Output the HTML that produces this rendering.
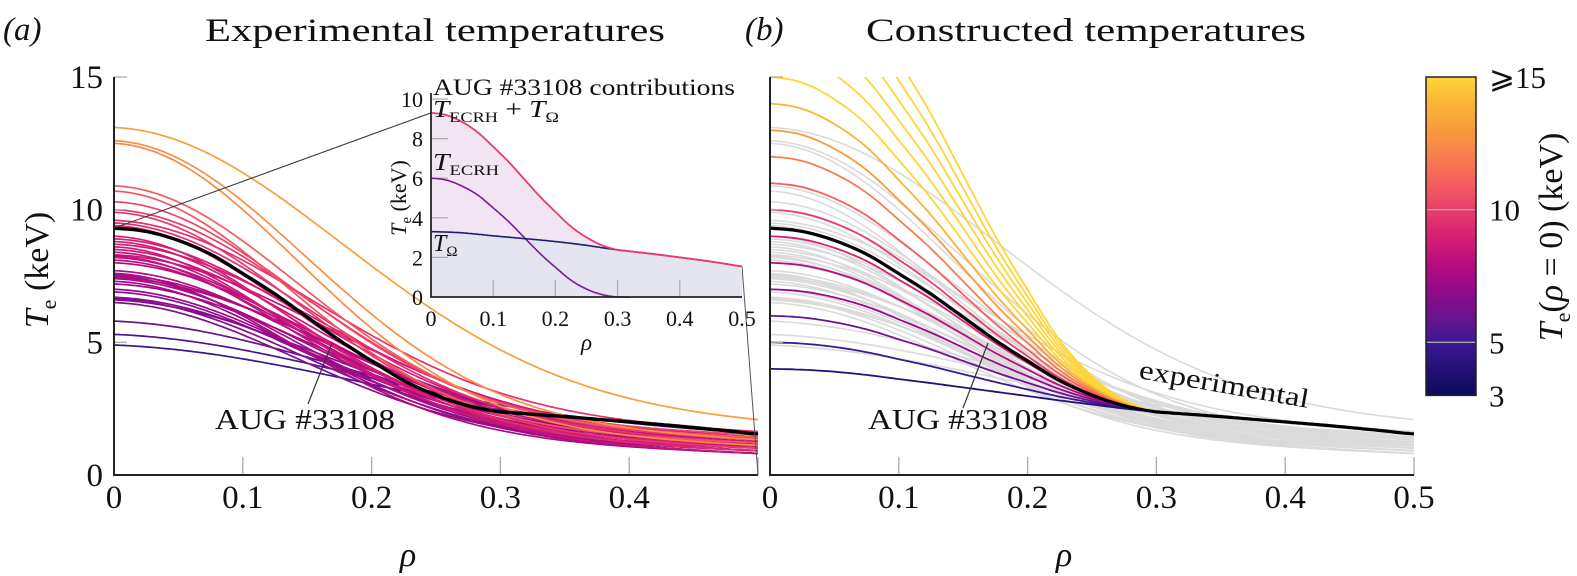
<!DOCTYPE html>
<html><head><meta charset="utf-8"><style>
body{margin:0;background:#fff}
svg{display:block;font-family:"Liberation Serif","DejaVu Serif",serif}
</style></head><body>
<svg id="fig" width="1577" height="576" viewBox="0 0 1577 576"></svg>
<script>
// ---------- data ----------
const rhoGrid = [0,0.025,0.05,0.075,0.1,0.125,0.15,0.175,0.2,0.225,0.25,0.275,0.3,0.325,0.35,0.375,0.4,0.425,0.45,0.475,0.5];
const tOmega = [3.3,3.28,3.24,3.17,3.09,3.02,2.95,2.88,2.8,2.71,2.61,2.49,2.38,2.29,2.2,2.1,2.0,1.9,1.79,1.67,1.55];
const tEcrh  = [6.0,5.9,5.6,5.15,4.5,3.8,3.0,2.2,1.5,0.85,0.4,0.12,0.0,0,0,0,0,0,0,0,0];
// experimental profiles (panel a): core temperature, width, edge value
const expT0 = [13.1,12.6,12.5,10.9,10.7,10.3,10.0,9.9,9.6,9.5,9.4,9.0,8.9,8.8,8.7,8.6,8.5,8.4,8.3,8.25,8.2,8.1,8.0,7.7,7.6,7.55,7.5,7.45,7.4,7.3,7.2,7.0,6.9,6.7,6.65,6.6,6.5,5.8,5.3,4.9];
const expW  = [0.25,0.21,0.20,0.20,0.19,0.20,0.21,0.20,0.22,0.21,0.20,0.19,0.21,0.20,0.22,0.19,0.21,0.20,0.23,0.19,0.21,0.20,0.22,0.21,0.19,0.22,0.20,0.23,0.21,0.20,0.22,0.21,0.20,0.22,0.21,0.23,0.20,0.25,0.26,0.28];
const expEdge = [1.9,1.3,1.1,1.4,1.2,1.5,1.3,1.0,1.6,1.2,0.9,1.1,1.3,0.9,1.4,1.0,1.2,0.8,1.3,1.1,0.9,1.2,1.0,1.1,0.8,1.3,0.9,1.2,1.0,0.8,1.1,0.9,1.2,1.0,0.8,1.1,0.9,1.3,1.5,1.2];
// constructed profiles (panel b): core temperature values
const conT0 = [4,5,6,7,8,9,10,11,12,13,14,15,16,17,18,19,20];
const yTicks = [0,5,10,15];
const xTicksA = [0,0.1,0.2,0.3,0.4];
const xTicksB = [0,0.1,0.2,0.3,0.4,0.5];
const insetXTicks = [0,0.1,0.2,0.3,0.4,0.5];
const insetYTicks = [0,2,4,6,8,10];
const cbTicks = [3,5,10,15];
const cbTickLabels = ["3","5","10","⩾15"];

// ---------- helpers ----------
const NS="http://www.w3.org/2000/svg";
const svg=document.getElementById('fig');
function mk(tag,attrs,parent){const e=document.createElementNS(NS,tag);for(const k in attrs)e.setAttribute(k,attrs[k]);(parent||svg).appendChild(e);return e;}
const cmapStops=[[3,[12,10,90]],[5,[60,24,148]],[6,[106,19,143]],[7,[150,11,137]],[8,[187,12,127]],[9,[216,31,115]],[10,[234,60,107]],[11,[244,96,94]],[12,[247,125,78]],[13,[248,155,60]],[14,[250,181,53]],[15,[252,213,56]]];
function cmap(v){v=Math.max(3,Math.min(15,v));for(let i=0;i<cmapStops.length-1;i++){const a=cmapStops[i],b=cmapStops[i+1];if(v<=b[0]){const t=(v-a[0])/(b[0]-a[0]);const c=a[1].map((x,j)=>Math.round(x+(b[1][j]-x)*t));return `rgb(${c})`;}}return 'rgb(252,213,56)';}
function expProfile(T0,w,e,r){const t=1.0;return e+t*(1-2*r)+(T0-e-t)*Math.exp(-(r/w)*(r/w));}
function interp(arr,r){const h=rhoGrid[1]-rhoGrid[0];let i=Math.min(Math.floor(r/h),arr.length-2);const t=r/h-i;
  const p0=arr[Math.max(i-1,0)],p1=arr[i],p2=arr[i+1],p3=arr[Math.min(i+2,arr.length-1)];
  return 0.5*((2*p1)+(-p0+p2)*t+(2*p0-5*p1+4*p2-p3)*t*t+(-p0+3*p1-3*p2+p3)*t*t*t);}
function ecrh(r){return r>=0.3?0:Math.max(0,interp(tEcrh,r));}

const A={x0:114,x1:758,y0:475,y1:77};
const B={x0:770,x1:1414,y0:475,y1:77};
function sx(P,r){return P.x0+(P.x1-P.x0)*r/0.5;}
function sy(P,v){return P.y0+(P.y1-P.y0)*v/15;}
const I={x0:431,x1:742,y0:297,y1:99};
function ix(r){return I.x0+(I.x1-I.x0)*r/0.5;}
function iy(v){return I.y0+(I.y1-I.y0)*v/10;}
function pathFrom(pts){return pts.map((p,i)=>(i?'L':'M')+p[0].toFixed(1)+' '+p[1].toFixed(1)).join(' ');}
function sample(fn,xf,yf,r0,r1){const pts=[];for(let k=0;k<=200;k++){const r=r0+(r1-r0)*k/200;pts.push([xf(r),yf(fn(r))]);}return pts;}

const defs=mk('defs',{});
const cA=mk('clipPath',{id:'clipA'},defs);mk('rect',{x:A.x0,y:A.y1,width:A.x1-A.x0,height:A.y0-A.y1},cA);
const cB=mk('clipPath',{id:'clipB'},defs);mk('rect',{x:B.x0,y:B.y1,width:B.x1-B.x0,height:B.y0-B.y1},cB);
const grad=mk('linearGradient',{id:'cbGrad',x1:0,y1:1,x2:0,y2:0},defs);
for(let v=3;v<=15;v+=0.5){mk('stop',{offset:((v-3)/12).toFixed(3),'stop-color':cmap(v)},grad);}

function drawAxes(P,name,xTicks){
  const g=mk('g',{});
  
  
  yTicks.forEach(v=>{ if(v>0){const t=mk('line',{x1:P.x0,x2:P.x0+13,y1:sy(P,v),y2:sy(P,v),stroke:'#aaa','stroke-width':1.3},g);}});
  [0.1,0.2,0.3,0.4,0.5].forEach(r=>{const t=mk('line',{x1:sx(P,r),x2:sx(P,r),y1:P.y0,y2:P.y0-18,stroke:'#aaa','stroke-width':1.3},g);});
  mk('path',{d:`M${P.x0} ${P.y1} L${P.x0} ${P.y0} L${P.x1} ${P.y0}`,fill:'none',stroke:'#222','stroke-width':2},g);
  xTicks.forEach(r=>{const t=mk('text',{x:sx(P,r),y:508,'text-anchor':'middle','font-size':33,fill:'#111'},g);t.textContent=r===0?'0':String(r);});
  const xl=mk('text',{x:(P.x0+P.x1)/2-28,y:566,'text-anchor':'middle','font-size':34,'font-style':'italic',fill:'#111'},g);xl.textContent='ρ';
  
}

// ---------- panel A ----------
const gA=mk('g',{'clip-path':'url(#clipA)'});

const orderA=expT0.map((v,i)=>i).sort((a,b)=>expT0[a]-expT0[b]);
orderA.forEach(i=>{
  const pts=sample(r=>expProfile(expT0[i],expW[i],expEdge[i],r),r=>sx(A,r),v=>sy(A,v),0,0.5);
  const p=mk('path',{d:pathFrom(pts),fill:'none',stroke:cmap(expT0[i]),'stroke-width':1.7},gA);
  
});
const blackA=mk('path',{d:pathFrom(sample(r=>interp(tOmega,r)+ecrh(r),r=>sx(A,r),v=>sy(A,v),0,0.5)),fill:'none',stroke:'#000','stroke-width':3.4},gA);

drawAxes(A,'panel-a',xTicksA);
yTicks.forEach(v=>{const t=mk('text',{x:103,y:sy(A,v)+11,'text-anchor':'end','font-size':33,fill:'#111'});t.textContent=v;});
const yl=mk('text',{transform:'translate(48,270) rotate(-90)','text-anchor':'middle','font-size':34,fill:'#111'});
yl.innerHTML='<tspan font-style="italic">T</tspan><tspan font-size="22" dy="8">e</tspan><tspan dy="-8">  (keV)</tspan>';


const z1=mk('line',{x1:A.x0,y1:sy(A,9.3),x2:I.x0,y2:iy(9.3),stroke:'#333','stroke-width':1});

const z2=mk('line',{x1:A.x1,y1:A.y0,x2:I.x1,y2:iy(1.55),stroke:'#555','stroke-width':1});


const la=mk('line',{x1:332,y1:343,x2:308,y2:404,stroke:'#333','stroke-width':1.2});

const ta=mk('text',{x:215,y:429,'font-size':28,fill:'#111',textLength:180,lengthAdjust:'spacingAndGlyphs'});ta.textContent='AUG #33108';


// ---------- inset ----------
const gI=mk('g',{});
const sumPts=sample(r=>interp(tOmega,r)+ecrh(r),ix,iy,0,0.5);
const omPts=sample(r=>interp(tOmega,r),ix,iy,0,0.5);
mk('path',{d:pathFrom(sumPts)+` L${I.x1} ${I.y0} L${I.x0} ${I.y0} Z`,fill:'#f1e5f3'},gI);
mk('path',{d:pathFrom(omPts)+` L${I.x1} ${I.y0} L${I.x0} ${I.y0} Z`,fill:'#e5e5ef'},gI);
insetYTicks.forEach(v=>{if(v>0)mk('line',{x1:I.x0,x2:I.x0+17,y1:iy(v),y2:iy(v),stroke:'#aaa','stroke-width':1.2},gI);});
[0.1,0.2,0.3,0.4].forEach(r=>mk('line',{x1:ix(r),x2:ix(r),y1:I.y0,y2:I.y0-17,stroke:'#aaa','stroke-width':1.2},gI));
const pe=mk('path',{d:pathFrom(sample(ecrh,ix,iy,0,0.32)),fill:'none',stroke:'#7a1a9c','stroke-width':1.6},gI);
const po=mk('path',{d:pathFrom(omPts),fill:'none',stroke:'#1a1f6e','stroke-width':1.6},gI);
const ps=mk('path',{d:pathFrom(sumPts),fill:'none',stroke:'#ec3a70','stroke-width':1.8},gI);
mk('path',{d:`M${I.x0} ${I.y1-6} L${I.x0} ${I.y0} L${I.x1} ${I.y0}`,fill:'none',stroke:'#222','stroke-width':1.8},gI);
insetYTicks.forEach(v=>{const t=mk('text',{x:423,y:iy(v)+8,'text-anchor':'end','font-size':22,fill:'#111'},gI);t.textContent=v;});
insetXTicks.forEach(r=>{const t=mk('text',{x:ix(r),y:326,'text-anchor':'middle','font-size':22,fill:'#111'},gI);t.textContent=r===0?'0':String(r);});
const irl=mk('text',{x:ix(0.25),y:350,'text-anchor':'middle','font-size':23,'font-style':'italic',fill:'#111'},gI);irl.textContent='ρ';
const iyl=mk('text',{transform:'translate(406,198) rotate(-90)','text-anchor':'middle','font-size':22,fill:'#111'},gI);
iyl.innerHTML='<tspan font-style="italic">T</tspan><tspan font-size="15" dy="5">e</tspan><tspan dy="-5">  (keV)</tspan>';
const it=mk('text',{x:433,y:95,'font-size':23,fill:'#111',textLength:302,lengthAdjust:'spacingAndGlyphs'},gI);it.textContent='AUG #33108 contributions';

const l1=mk('text',{x:433,y:117,'font-size':24,fill:'#111',textLength:126,lengthAdjust:'spacingAndGlyphs'},gI);
l1.innerHTML='<tspan font-style="italic">T</tspan><tspan font-size="15" dy="5">ECRH</tspan><tspan dy="-5"> + </tspan><tspan font-style="italic">T</tspan><tspan font-size="15" dy="5">Ω</tspan>';
const l2=mk('text',{x:433,y:170,'font-size':24,fill:'#111',textLength:66,lengthAdjust:'spacingAndGlyphs'},gI);
l2.innerHTML='<tspan font-style="italic">T</tspan><tspan font-size="15" dy="5">ECRH</tspan>';
const l3=mk('text',{x:433,y:251,'font-size':24,fill:'#111'},gI);
l3.innerHTML='<tspan font-style="italic">T</tspan><tspan font-size="15" dy="5">Ω</tspan>';

// ---------- panel B ----------
const gB=mk('g',{'clip-path':'url(#clipB)'});

expT0.forEach((T0,i)=>{
  const pts=sample(r=>expProfile(T0,expW[i],expEdge[i],r),r=>sx(B,r),v=>sy(B,v),0,0.5);
  const p=mk('path',{d:pathFrom(pts),fill:'none',stroke:'#dadada','stroke-width':1.6},gB);
  
});
conT0.slice().reverse().forEach(T0=>{
  const s=(T0-tOmega[0])/tEcrh[0];
  const pts=sample(r=>interp(tOmega,r)+s*ecrh(r),r=>sx(B,r),v=>sy(B,v),0,0.5);
  const p=mk('path',{d:pathFrom(pts),fill:'none',stroke:cmap(T0),'stroke-width':1.8},gB);
  
});
const blackB=mk('path',{d:pathFrom(sample(r=>interp(tOmega,r)+ecrh(r),r=>sx(B,r),v=>sy(B,v),0,0.5)),fill:'none',stroke:'#000','stroke-width':3.2},gB);

drawAxes(B,'panel-b',xTicksB);
const lb=mk('line',{x1:988,y1:343,x2:963,y2:408,stroke:'#333','stroke-width':1.2});

const tb=mk('text',{x:868,y:429,'font-size':28,fill:'#111',textLength:180,lengthAdjust:'spacingAndGlyphs'});tb.textContent='AUG #33108';

const te=mk('text',{transform:'translate(1138,378) rotate(10)','font-size':27,fill:'#111',textLength:172,lengthAdjust:'spacingAndGlyphs'});te.textContent='experimental';


// ---------- colorbar ----------
const cbY=v=>sy(A,v);
const cb=mk('rect',{x:1426,y:cbY(15),width:50,height:cbY(3)-cbY(15),fill:'url(#cbGrad)',stroke:'#222','stroke-width':1.5});

cbTicks.forEach((v,i)=>{
  if(v===5||v===10)mk('line',{x1:1427,x2:1475,y1:cbY(v),y2:cbY(v),stroke:'#aaa','stroke-width':1.3});
  const t=mk('text',{x:1489,y:cbY(v)+11,'font-size':31,fill:'#111'});t.textContent=cbTickLabels[i];
  
});
const cbl=mk('text',{transform:'translate(1562,237) rotate(-90)','text-anchor':'middle','font-size':34,fill:'#111'});
cbl.innerHTML='<tspan font-style="italic">T</tspan><tspan font-size="22" dy="8">e</tspan><tspan dy="-8">(</tspan><tspan font-style="italic">ρ</tspan><tspan> = 0)  (keV)</tspan>';


// ---------- titles ----------
[['(a)',3,'panel-a-label'],['(b)',745,'panel-b-label']].forEach(([s,x,n])=>{
  const t=mk('text',{x:x,y:40,'font-size':33,'font-style':'italic',fill:'#111'});t.textContent=s;
  });
const ta1=mk('text',{x:205,y:41,'font-size':33,fill:'#111',textLength:460,lengthAdjust:'spacingAndGlyphs'});ta1.textContent='Experimental temperatures';

const tb1=mk('text',{x:866,y:41,'font-size':33,fill:'#111',textLength:440,lengthAdjust:'spacingAndGlyphs'});tb1.textContent='Constructed temperatures';

</script>
</body></html>
